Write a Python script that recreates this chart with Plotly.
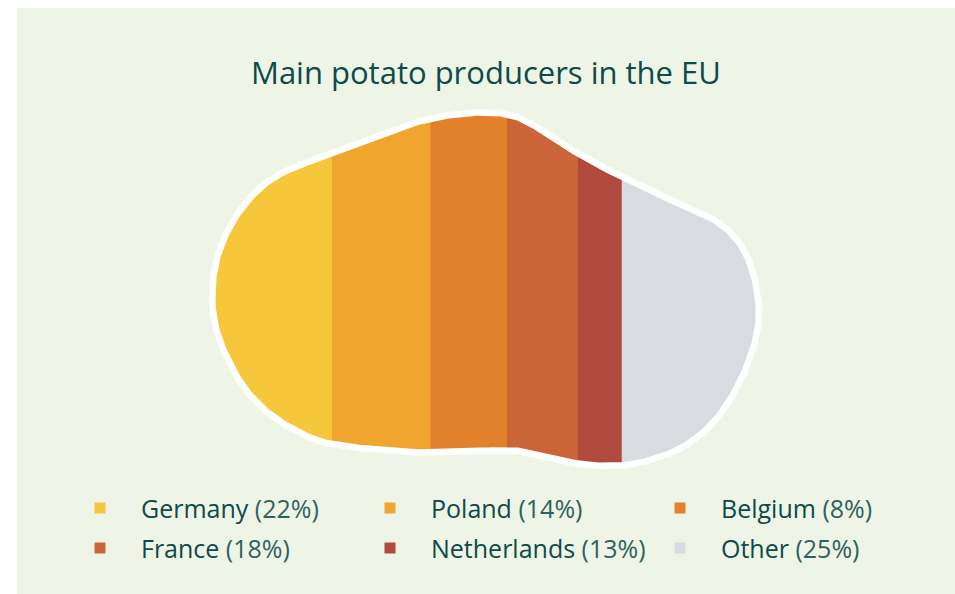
import numpy as np
import plotly.graph_objects as go

# ---- data ----
title = "Main potato producers in the EU"
legend_labels = ["Germany", "Poland", "Belgium", "France", "Netherlands", "Other"]
legend_values = [22, 14, 8, 18, 13, 25]
palette = ["#F7C73B", "#F0A62E", "#E3802B", "#CB6437", "#B04A3C", "#D8DBE0"]
# strip order as drawn (left to right) and their shares
strip_values = [22, 18, 14, 13, 8, 25]

# ---- potato outline (decorative shape, pixel space) ----
outline_x = [212, 214, 220, 232, 255, 283, 335, 383, 428, 467, 500, 525, 577, 620, 663, 712, 738,
             752, 759, 757, 742, 716, 682, 640, 610, 577, 553, 530, 505, 480, 428, 335, 298, 268,
             244, 227, 216]
outline_y = [300, 270, 248, 222, 192, 172, 152, 133, 119, 113, 113, 120, 153, 176, 197, 218, 240,
             268, 305, 335, 378, 420, 448, 463, 466, 464, 457, 452, 450, 451, 453, 445, 432, 413,
             388, 358, 330]


def catmull_rom_closed(xs, ys, n=30):
    P = np.column_stack([xs, ys]).astype(float)
    N = len(P)
    out = []
    for i in range(N):
        p0, p1, p2, p3 = P[(i - 1) % N], P[i], P[(i + 1) % N], P[(i + 2) % N]
        for t in np.linspace(0, 1, n, endpoint=False):
            t2, t3 = t * t, t * t * t
            pt = 0.5 * ((2 * p1) + (-p0 + p2) * t + (2 * p0 - 5 * p1 + 4 * p2 - p3) * t2
                        + (-p0 + 3 * p1 - 3 * p2 + p3) * t3)
            out.append(pt)
    return np.array(out)


def smooth_closed(P, step=1.0, sigma=9.0):
    Q = np.vstack([P, P[:1]])
    seg = np.hypot(np.diff(Q[:, 0]), np.diff(Q[:, 1]))
    s = np.concatenate([[0], np.cumsum(seg)])
    L = s[-1]
    m = int(L / step)
    su = np.linspace(0, L, m, endpoint=False)
    x = np.interp(su, s, Q[:, 0])
    y = np.interp(su, s, Q[:, 1])
    k = np.arange(-int(4 * sigma / step), int(4 * sigma / step) + 1)
    w = np.exp(-0.5 * (k * step / sigma) ** 2)
    w /= w.sum()
    xs = np.zeros(m)
    ys = np.zeros(m)
    for kk, ww in zip(k, w):
        xs += ww * np.roll(x, kk)
        ys += ww * np.roll(y, kk)
    return np.column_stack([xs, ys])


def clip_halfplane(poly, xval, keep_greater):
    res = []
    n = len(poly)
    for i in range(n):
        cur, prev = poly[i], poly[i - 1]
        cin = cur[0] >= xval if keep_greater else cur[0] <= xval
        pin = prev[0] >= xval if keep_greater else prev[0] <= xval
        if cin:
            if not pin:
                t = (xval - prev[0]) / (cur[0] - prev[0])
                res.append(prev + t * (cur - prev))
            res.append(cur)
        elif pin:
            t = (xval - prev[0]) / (cur[0] - prev[0])
            res.append(prev + t * (cur - prev))
    return np.array(res)


blob = smooth_closed(catmull_rom_closed(outline_x, outline_y))
xmin, xmax = blob[:, 0].min(), blob[:, 0].max()
cum = np.concatenate([[0], np.cumsum(strip_values)]) / sum(strip_values)
edges = xmin + cum * (xmax - xmin)

fig = go.Figure()

for i in range(len(strip_values)):
    a = edges[i] - (0 if i == 0 else 0.6)
    b = edges[i + 1] + (0 if i == len(strip_values) - 1 else 0.6)
    poly = clip_halfplane(blob, a, True)
    poly = clip_halfplane(poly, b, False)
    xs = list(poly[:, 0]) + [poly[0, 0]]
    ys = list(poly[:, 1]) + [poly[0, 1]]
    fig.add_trace(go.Scatter(x=xs, y=ys, fill="toself", fillcolor=palette[i], mode="none",
                             hoverinfo="skip", showlegend=False))

# white outline
fig.add_trace(go.Scatter(x=list(blob[:, 0]) + [blob[0, 0]], y=list(blob[:, 1]) + [blob[0, 1]],
                         mode="lines", line=dict(color="white", width=6.5), hoverinfo="skip",
                         showlegend=False))

# legend (row-major grid, 3 columns)
col_x = [100, 390, 680]
row_y = [508, 548]
mx, my = [], []
for k, (lab, val) in enumerate(zip(legend_labels, legend_values)):
    r, c = divmod(k, 3)
    mx.append(col_x[c])
    my.append(row_y[r])
    fig.add_annotation(x=col_x[c] + 39, y=row_y[r], xanchor="left", yanchor="middle", showarrow=False,
                       text=f"<span style='color:#0D4A4A'>{lab}</span> "
                            f"<span style='color:#2E6262'>({val}%)</span>",
                       font=dict(family="Open Sans", size=25))
fig.add_trace(go.Scatter(x=mx, y=my, mode="markers",
                         marker=dict(symbol="square", size=11, color=palette, line=dict(width=0)),
                         hoverinfo="skip", showlegend=False))

fig.add_annotation(x=486, y=72, text=title, showarrow=False, xanchor="center", yanchor="middle",
                   font=dict(family="Open Sans", size=31, color="#0D4A4A"))

fig.add_shape(type="rect", x0=17, x1=955, y0=8, y1=594, fillcolor="#EEF5E6", line=dict(width=0),
              layer="below")

fig.update_layout(width=955, height=594, margin=dict(l=0, r=0, t=0, b=0),
                  paper_bgcolor="white", plot_bgcolor="white",
                  xaxis=dict(range=[0, 955], visible=False, fixedrange=True),
                  yaxis=dict(range=[594, 0], visible=False, fixedrange=True))

fig.write_html("out.html", config={"displayModeBar": False})
